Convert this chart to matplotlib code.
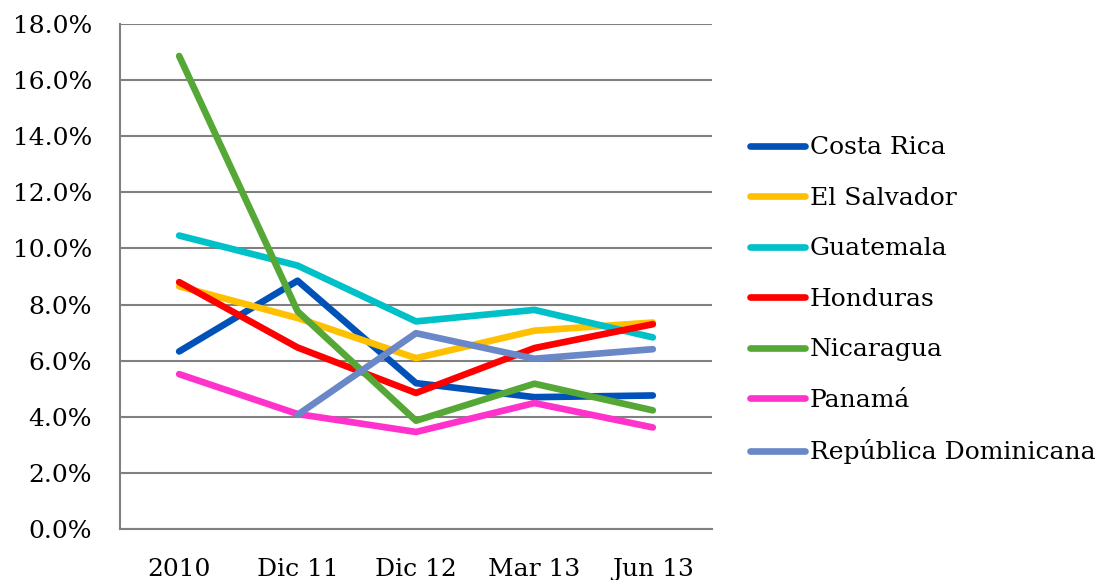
import matplotlib
matplotlib.use("Agg")
import matplotlib.pyplot as plt
import numpy as np
from matplotlib.ticker import FuncFormatter

plt.rcParams['font.family'] = ['DejaVu Serif']

periods = ["2010", "Dic 11", "Dic 12", "Mar 13", "Jun 13"]
costa_rica = [6.33, 8.85, 5.20, 4.70, 4.76]
el_salvador = [8.65, 7.52, 6.09, 7.07, 7.36]
guatemala = [10.46, 9.39, 7.40, 7.81, 6.83]
honduras = [8.80, 6.47, 4.85, 6.45, 7.30]
nicaragua = [16.86, 7.76, 3.86, 5.18, 4.23]
panama = [5.52, 4.10, 3.46, 4.49, 3.62]
rep_dom = [np.nan, 4.07, 6.98, 6.07, 6.41]

names = ["Costa Rica", "El Salvador", "Guatemala", "Honduras", "Nicaragua",
         "Panamá", "República Dominicana"]
series = [costa_rica, el_salvador, guatemala, honduras, nicaragua, panama, rep_dom]
colors = ["#0052B8", "#FFC000", "#00C0C8", "#FF0000", "#56A836", "#FF33CC", "#6A87C8"]

fig = plt.figure(figsize=(11.19, 5.80), dpi=100)
ax = fig.add_axes([0.1072, 0.0879, 0.5291, 0.8707])

x = np.arange(len(periods))
for name, vals, c in zip(names, series, colors):
    ax.plot(x, vals, color=c, lw=4.8, solid_capstyle="round",
            solid_joinstyle="round", label=name)

ax.set_xlim(-0.5, len(periods) - 0.5)
ax.set_ylim(0, 18)
ax.set_yticks(np.arange(0, 18.1, 2))
ax.yaxis.set_major_formatter(FuncFormatter(lambda v, p: f"{v:.1f}%"))
ax.set_xticks(x)
ax.set_xticklabels(periods)
ax.grid(axis="y", color="#808080", lw=1.5, zorder=0)
ax.set_axisbelow(True)
for s in ["top", "right"]:
    ax.spines[s].set_visible(False)
for s in ["left", "bottom"]:
    ax.spines[s].set_color("#808080")
    ax.spines[s].set_linewidth(1.5)
ax.tick_params(axis="both", length=0, labelsize=18, colors="black")
ax.tick_params(axis="y", pad=20)
ax.tick_params(axis="x", pad=21)

leg = ax.legend(loc="center left", bbox_to_anchor=(1.064, 0.453), frameon=False,
                fontsize=18, handlelength=2.2, handletextpad=0.2,
                labelspacing=1.10, borderaxespad=0, borderpad=0)

fig.savefig("out.png", dpi=100)
